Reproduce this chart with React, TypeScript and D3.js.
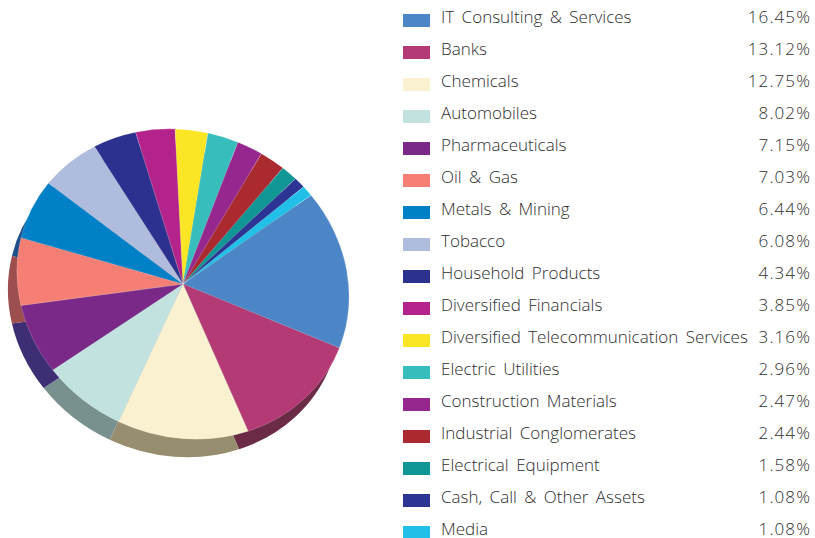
import React from "react";
import { arc, pie, scaleLinear, PieArcDatum } from "d3";

const categories = [
  "IT Consulting & Services",
  "Banks",
  "Chemicals",
  "Automobiles",
  "Pharmaceuticals",
  "Oil & Gas",
  "Metals & Mining",
  "Tobacco",
  "Household Products",
  "Diversified Financials",
  "Diversified Telecommunication Services",
  "Electric Utilities",
  "Construction Materials",
  "Industrial Conglomerates",
  "Electrical Equipment",
  "Cash, Call & Other Assets",
  "Media",
];
const values = [16.45, 13.12, 12.75, 8.02, 7.15, 7.03, 6.44, 6.08, 4.34, 3.85, 3.16, 2.96, 2.47, 2.44, 1.58, 1.08, 1.08];
const colors = [
  "#4c86c6", "#b33a75", "#f9f1cf", "#c2e2df", "#7b2988", "#f57f75", "#0080c6", "#afbcdd", "#2c3190",
  "#b4228b", "#fbe626", "#38bdbd", "#96278f", "#ab2a30", "#109694", "#2c3594", "#22c0e8",
];
const shadowColors = [
  "#2c4f75", "#6b2a45", "#968e6e", "#78918f", "#3e2e73", "#9c4f4e", "#1f4f8a", "#6f7890", "#1c2060",
  "#701858", "#a09418", "#247878", "#601860", "#6e1b1f", "#0a6060", "#1c2060", "#167c96",
];

const cx = 183;
const cy = 284;
// the pie is a tilted ellipse, long axis pointing lower right
const majorR = 169;
const minorR = 152;
const tilt = 25;
const startDeg = 27.7;

export default function App() {
  const slices = pie<number>()
    .sort(null)
    .startAngle((startDeg * Math.PI) / 180)
    .endAngle(((startDeg + 360) * Math.PI) / 180)(values);
  const sliceArc = arc<PieArcDatum<number>>().innerRadius(0).outerRadius(majorR);
  const rowY = scaleLinear().domain([0, categories.length - 1]).range([17, 529]);
  const font = "'Open Sans', sans-serif";
  const squash = `rotate(${tilt}) scale(1,${minorR / majorR})`;

  return (
    <svg width={815} height={538} style={{ position: "absolute", left: 0, top: 0, background: "#fff" }}>
      {/* extruded edge is the same pie pushed down and left */}
      <g transform={`translate(${cx - 9},${cy + 18}) ${squash}`}>
        {slices.map((d, i) => (
          <path key={i} d={sliceArc(d) ?? ""} fill={shadowColors[i]} />
        ))}
      </g>
      <g transform={`translate(${cx},${cy}) ${squash}`}>
        {slices.map((d, i) => (
          <path key={i} d={sliceArc(d) ?? ""} fill={colors[i]} stroke="#ffffff" strokeOpacity={0.35} strokeWidth={0.5} />
        ))}
      </g>
      {categories.map((name, i) => (
        <g key={name} transform={`translate(0,${rowY(i)})`}>
          <rect x={403} y={-3} width={27} height={13} fill={colors[i]} />
          <text x={441} y={6} fontFamily={font} fontSize={17} fontWeight={300} wordSpacing={3} fill="#2e2e2e">
            {name}
          </text>
          <text x={811} y={6} textAnchor="end" fontFamily={font} fontSize={17} fontWeight={300} letterSpacing={1.1} fill="#2e2e2e">
            {values[i].toFixed(2)}%
          </text>
        </g>
      ))}
    </svg>
  );
}
